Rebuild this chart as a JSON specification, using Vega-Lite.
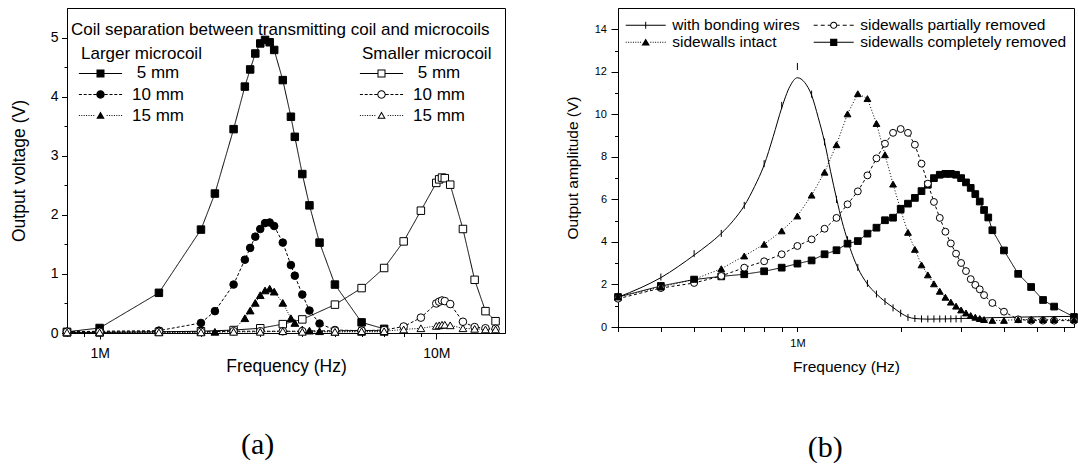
{
  "$schema": "https://vega.github.io/schema/vega-lite/v6.json",
  "padding": {"left": 9, "top": 7, "right": 0, "bottom": 0},
  "background": "white",
  "spacing": 58,
  "config": {
    "font": "Liberation Sans",
    "view": {"stroke": "black", "strokeWidth": 1},
    "axis": {"domainColor": "black", "tickColor": "black", "labelColor": "black", "titleColor": "black", "grid": false, "titleFontWeight": "normal", "domainWidth": 1, "tickWidth": 1, "labelOverlap": false, "labelFlush": false},
    "legend": {"labelColor": "black", "titleColor": "black", "titleFontWeight": "normal", "padding": 0, "labelLimit": 400, "titleLimit": 600},
    "title": {"color": "black", "fontWeight": "normal"}
  },
  "resolve": {"scale": {"shape": "independent", "fill": "independent", "strokeDash": "independent", "size": "independent", "color": "independent"}},
  "hconcat": [
    {
      "title": {"text": "(a)", "orient": "bottom", "anchor": "middle", "frame": "bounds", "font": "Liberation Serif", "fontSize": 30, "baseline": "alphabetic", "offset": 79},
      "vconcat": [
        {
          "width": 438,
          "height": 325,
          "data": {"values": [
            {"coil":"Larger","sep":"5 mm","f":8e5,"v":0.02},{"coil":"Larger","sep":"5 mm","f":1e6,"v":0.085},{"coil":"Larger","sep":"5 mm","f":1.5e6,"v":0.68},{"coil":"Larger","sep":"5 mm","f":2e6,"v":1.75},{"coil":"Larger","sep":"5 mm","f":2.2e6,"v":2.36},{"coil":"Larger","sep":"5 mm","f":2.5e6,"v":3.45},{"coil":"Larger","sep":"5 mm","f":2.7e6,"v":4.17},{"coil":"Larger","sep":"5 mm","f":2.8e6,"v":4.46},{"coil":"Larger","sep":"5 mm","f":2.9e6,"v":4.73},{"coil":"Larger","sep":"5 mm","f":3e6,"v":4.9},{"coil":"Larger","sep":"5 mm","f":3.1e6,"v":4.96},{"coil":"Larger","sep":"5 mm","f":3.2e6,"v":4.92},{"coil":"Larger","sep":"5 mm","f":3.3e6,"v":4.79},{"coil":"Larger","sep":"5 mm","f":3.5e6,"v":4.28},{"coil":"Larger","sep":"5 mm","f":3.7e6,"v":3.66},{"coil":"Larger","sep":"5 mm","f":3.8e6,"v":3.32},{"coil":"Larger","sep":"5 mm","f":4e6,"v":2.69},{"coil":"Larger","sep":"5 mm","f":4.2e6,"v":2.16},{"coil":"Larger","sep":"5 mm","f":4.5e6,"v":1.53},{"coil":"Larger","sep":"5 mm","f":5e6,"v":0.82},{"coil":"Larger","sep":"5 mm","f":6e6,"v":0.18},{"coil":"Larger","sep":"5 mm","f":7e6,"v":0.07},
            {"coil":"Larger","sep":"10 mm","f":8e5,"v":0.02},{"coil":"Larger","sep":"10 mm","f":1e6,"v":0.03},{"coil":"Larger","sep":"10 mm","f":1.5e6,"v":0.04},{"coil":"Larger","sep":"10 mm","f":2e6,"v":0.17},{"coil":"Larger","sep":"10 mm","f":2.2e6,"v":0.37},{"coil":"Larger","sep":"10 mm","f":2.5e6,"v":0.82},{"coil":"Larger","sep":"10 mm","f":2.7e6,"v":1.24},{"coil":"Larger","sep":"10 mm","f":2.8e6,"v":1.44},{"coil":"Larger","sep":"10 mm","f":2.9e6,"v":1.63},{"coil":"Larger","sep":"10 mm","f":3e6,"v":1.76},{"coil":"Larger","sep":"10 mm","f":3.1e6,"v":1.86},{"coil":"Larger","sep":"10 mm","f":3.2e6,"v":1.87},{"coil":"Larger","sep":"10 mm","f":3.3e6,"v":1.81},{"coil":"Larger","sep":"10 mm","f":3.5e6,"v":1.53},{"coil":"Larger","sep":"10 mm","f":3.7e6,"v":1.15},{"coil":"Larger","sep":"10 mm","f":3.8e6,"v":0.97},{"coil":"Larger","sep":"10 mm","f":4e6,"v":0.65},{"coil":"Larger","sep":"10 mm","f":4.2e6,"v":0.38},{"coil":"Larger","sep":"10 mm","f":4.5e6,"v":0.16},{"coil":"Larger","sep":"10 mm","f":5e6,"v":0.05},{"coil":"Larger","sep":"10 mm","f":6e6,"v":0.04},{"coil":"Larger","sep":"10 mm","f":7e6,"v":0.04},
            {"coil":"Larger","sep":"15 mm","f":8e5,"v":0.01},{"coil":"Larger","sep":"15 mm","f":1e6,"v":0.01},{"coil":"Larger","sep":"15 mm","f":1.5e6,"v":0.02},{"coil":"Larger","sep":"15 mm","f":2e6,"v":0.02},{"coil":"Larger","sep":"15 mm","f":2.2e6,"v":0.02},{"coil":"Larger","sep":"15 mm","f":2.5e6,"v":0.05},{"coil":"Larger","sep":"15 mm","f":2.7e6,"v":0.25},{"coil":"Larger","sep":"15 mm","f":2.8e6,"v":0.38},{"coil":"Larger","sep":"15 mm","f":2.9e6,"v":0.51},{"coil":"Larger","sep":"15 mm","f":3e6,"v":0.64},{"coil":"Larger","sep":"15 mm","f":3.1e6,"v":0.72},{"coil":"Larger","sep":"15 mm","f":3.2e6,"v":0.75},{"coil":"Larger","sep":"15 mm","f":3.3e6,"v":0.7},{"coil":"Larger","sep":"15 mm","f":3.5e6,"v":0.51},{"coil":"Larger","sep":"15 mm","f":3.7e6,"v":0.25},{"coil":"Larger","sep":"15 mm","f":3.8e6,"v":0.17},{"coil":"Larger","sep":"15 mm","f":4e6,"v":0.06},{"coil":"Larger","sep":"15 mm","f":4.2e6,"v":0.04},{"coil":"Larger","sep":"15 mm","f":4.5e6,"v":0.03},{"coil":"Larger","sep":"15 mm","f":5e6,"v":0.02},{"coil":"Larger","sep":"15 mm","f":6e6,"v":0.02},{"coil":"Larger","sep":"15 mm","f":7e6,"v":0.02},
            {"coil":"Smaller","sep":"5 mm","f":8e5,"v":0.01},{"coil":"Smaller","sep":"5 mm","f":1e6,"v":0.01},{"coil":"Smaller","sep":"5 mm","f":1.5e6,"v":0.02},{"coil":"Smaller","sep":"5 mm","f":2e6,"v":0.03},{"coil":"Smaller","sep":"5 mm","f":2.5e6,"v":0.05},{"coil":"Smaller","sep":"5 mm","f":3e6,"v":0.08},{"coil":"Smaller","sep":"5 mm","f":3.5e6,"v":0.15},{"coil":"Smaller","sep":"5 mm","f":4e6,"v":0.23},{"coil":"Smaller","sep":"5 mm","f":5e6,"v":0.48},{"coil":"Smaller","sep":"5 mm","f":6e6,"v":0.76},{"coil":"Smaller","sep":"5 mm","f":7e6,"v":1.1},{"coil":"Smaller","sep":"5 mm","f":8e6,"v":1.55},{"coil":"Smaller","sep":"5 mm","f":9e6,"v":2.07},{"coil":"Smaller","sep":"5 mm","f":1e7,"v":2.54},{"coil":"Smaller","sep":"5 mm","f":1.02e7,"v":2.6},{"coil":"Smaller","sep":"5 mm","f":1.04e7,"v":2.63},{"coil":"Smaller","sep":"5 mm","f":1.06e7,"v":2.62},{"coil":"Smaller","sep":"5 mm","f":1.1e7,"v":2.51},{"coil":"Smaller","sep":"5 mm","f":1.2e7,"v":1.76},{"coil":"Smaller","sep":"5 mm","f":1.3e7,"v":0.9},{"coil":"Smaller","sep":"5 mm","f":1.4e7,"v":0.37},{"coil":"Smaller","sep":"5 mm","f":1.5e7,"v":0.2},
            {"coil":"Smaller","sep":"10 mm","f":8e5,"v":0.02},{"coil":"Smaller","sep":"10 mm","f":1e6,"v":0.02},{"coil":"Smaller","sep":"10 mm","f":1.5e6,"v":0.02},{"coil":"Smaller","sep":"10 mm","f":2e6,"v":0.02},{"coil":"Smaller","sep":"10 mm","f":2.5e6,"v":0.03},{"coil":"Smaller","sep":"10 mm","f":3e6,"v":0.03},{"coil":"Smaller","sep":"10 mm","f":3.5e6,"v":0.03},{"coil":"Smaller","sep":"10 mm","f":4e6,"v":0.03},{"coil":"Smaller","sep":"10 mm","f":5e6,"v":0.04},{"coil":"Smaller","sep":"10 mm","f":6e6,"v":0.04},{"coil":"Smaller","sep":"10 mm","f":7e6,"v":0.05},{"coil":"Smaller","sep":"10 mm","f":8e6,"v":0.11},{"coil":"Smaller","sep":"10 mm","f":9e6,"v":0.26},{"coil":"Smaller","sep":"10 mm","f":1e7,"v":0.5},{"coil":"Smaller","sep":"10 mm","f":1.02e7,"v":0.53},{"coil":"Smaller","sep":"10 mm","f":1.04e7,"v":0.55},{"coil":"Smaller","sep":"10 mm","f":1.06e7,"v":0.54},{"coil":"Smaller","sep":"10 mm","f":1.1e7,"v":0.49},{"coil":"Smaller","sep":"10 mm","f":1.2e7,"v":0.19},{"coil":"Smaller","sep":"10 mm","f":1.3e7,"v":0.1},{"coil":"Smaller","sep":"10 mm","f":1.4e7,"v":0.08},{"coil":"Smaller","sep":"10 mm","f":1.5e7,"v":0.07},
            {"coil":"Smaller","sep":"15 mm","f":8e5,"v":0.01},{"coil":"Smaller","sep":"15 mm","f":1e6,"v":0.01},{"coil":"Smaller","sep":"15 mm","f":1.5e6,"v":0.01},{"coil":"Smaller","sep":"15 mm","f":2e6,"v":0.01},{"coil":"Smaller","sep":"15 mm","f":2.5e6,"v":0.02},{"coil":"Smaller","sep":"15 mm","f":3e6,"v":0.02},{"coil":"Smaller","sep":"15 mm","f":3.5e6,"v":0.03},{"coil":"Smaller","sep":"15 mm","f":4e6,"v":0.02},{"coil":"Smaller","sep":"15 mm","f":5e6,"v":0.02},{"coil":"Smaller","sep":"15 mm","f":6e6,"v":0.03},{"coil":"Smaller","sep":"15 mm","f":7e6,"v":0.03},{"coil":"Smaller","sep":"15 mm","f":8e6,"v":0.06},{"coil":"Smaller","sep":"15 mm","f":9e6,"v":0.08},{"coil":"Smaller","sep":"15 mm","f":1e7,"v":0.12},{"coil":"Smaller","sep":"15 mm","f":1.02e7,"v":0.13},{"coil":"Smaller","sep":"15 mm","f":1.04e7,"v":0.14},{"coil":"Smaller","sep":"15 mm","f":1.06e7,"v":0.14},{"coil":"Smaller","sep":"15 mm","f":1.1e7,"v":0.13},{"coil":"Smaller","sep":"15 mm","f":1.2e7,"v":0.08},{"coil":"Smaller","sep":"15 mm","f":1.3e7,"v":0.07},{"coil":"Smaller","sep":"15 mm","f":1.4e7,"v":0.06},{"coil":"Smaller","sep":"15 mm","f":1.5e7,"v":0.06}
          ]},
          "encoding": {
            "x": {"field": "f", "type": "quantitative", "scale": {"type": "log", "domain": [800000, 16000000], "nice": false},
              "axis": {"title": "Frequency (Hz)", "values": [800000, 900000, 1000000, 2000000, 3000000, 4000000, 5000000, 6000000, 7000000, 8000000, 9000000, 10000000],
                "labelExpr": "datum.value == 1000000 ? '1M' : (datum.value == 10000000 ? '10M' : '')",
                "tickSize": {"condition": {"test": "datum.value == 1000000 || datum.value == 10000000", "value": 6}, "value": 3.5},
                "labelFontSize": 14, "titleFontSize": 17.5, "labelPadding": 7.5, "titlePadding": -3.5}},
            "y": {"field": "v", "type": "quantitative", "scale": {"domain": [0, 5.5], "nice": false, "zero": false},
              "axis": {"title": "Output voltage (V)", "values": [0, 0.5, 1, 1.5, 2, 2.5, 3, 3.5, 4, 4.5, 5],
                "labelExpr": "datum.value % 1 == 0 ? format(datum.value, 'd') : ''",
                "tickSize": {"condition": {"test": "datum.value % 1 == 0", "value": 5.5}, "value": 3},
                "labelFontSize": 14, "titleFontSize": 17.5, "labelPadding": 3.5, "titlePadding": 22}}
          },
          "resolve": {"scale": {"shape": "independent"}},
          "layer": [
            {
              "mark": {"type": "line", "stroke": "black", "strokeWidth": 1},
              "encoding": {
                "strokeDash": {"field": "sep", "type": "nominal", "scale": {"domain": ["5 mm", "10 mm", "15 mm"], "range": [[1, 0], [3, 2], [1, 1.5]]}, "legend": null},
                "detail": {"field": "coil", "type": "nominal"}
              }
            },
            {
              "mark": {"type": "point", "filled": true, "stroke": "black", "strokeWidth": 1, "opacity": 1},
              "encoding": {
                "shape": {"field": "sep", "type": "nominal", "scale": {"domain": ["5 mm", "10 mm", "15 mm"], "range": ["square", "circle", "triangle-up"]}, "legend": null},
                "size": {"field": "sep", "type": "ordinal", "scale": {"domain": ["5 mm", "10 mm", "15 mm"], "range": [56, 60, 75]}, "legend": null},
                "fill": {"field": "coil", "type": "nominal", "scale": {"domain": ["Larger", "Smaller"], "range": ["black", "white"]}, "legend": null}
              }
            },
            {
              "transform": [{"filter": "false"}],
              "mark": {"type": "point", "opacity": 1},
              "encoding": {
                "color": {"field": "coil", "type": "nominal", "scale": {"domain": ["Larger"], "range": ["white"]},
                  "legend": {"title": "Coil separation between transmitting coil and microcoils", "orient": "none", "legendX": 4, "legendY": 14, "titleFontSize": 17, "titleLimit": 600, "titlePadding": 0, "labelExpr": "''", "labelFontSize": 1, "symbolOpacity": 0, "symbolSize": 1, "symbolStrokeWidth": 0}}
              }
            },
            {
              "transform": [{"filter": "false"}],
              "mark": {"type": "point", "filled": true, "fill": "black", "strokeWidth": 0, "opacity": 1},
              "encoding": {
                "shape": {"field": "sep", "type": "nominal",
                  "scale": {"domain": ["5 mm", "10 mm", "15 mm"], "range": [
                    "M-5.4,-0.125H5.4V0.125H-5.4ZM-1,-1H1V1H-1Z",
                    "M-5.4,-0.125H-4.65V0.125H-5.4ZM-4.2,-0.125H-3.45V0.125H-4.2ZM-3,-0.125H-2.25V0.125H-3ZM-1.8,-0.125H-1.05V0.125H-1.8ZM1.05,-0.125H1.8V0.125H1.05ZM2.25,-0.125H3V0.125H2.25ZM3.45,-0.125H4.2V0.125H3.45ZM4.65,-0.125H5.4V0.125H4.65ZM1.05,0A1.05,1.05,0,1,1,-1.05,0A1.05,1.05,0,1,1,1.05,0Z",
                    "M-5.4,-0.125H-5.15V0.125H-5.4ZM-4.8,-0.125H-4.55V0.125H-4.8ZM-4.2,-0.125H-3.95V0.125H-4.2ZM-3.6,-0.125H-3.35V0.125H-3.6ZM-3,-0.125H-2.75V0.125H-3ZM-2.4,-0.125H-2.15V0.125H-2.4ZM-1.8,-0.125H-1.55V0.125H-1.8ZM1.55,-0.125H1.8V0.125H1.55ZM2.15,-0.125H2.4V0.125H2.15ZM2.75,-0.125H3V0.125H2.75ZM3.35,-0.125H3.6V0.125H3.35ZM3.95,-0.125H4.2V0.125H3.95ZM4.55,-0.125H4.8V0.125H4.55ZM5.15,-0.125H5.4V0.125H5.15ZM0,-1L1.05,0.8H-1.05Z"]},
                  "legend": {"title": "Larger microcoil", "orient": "none", "legendX": 14, "legendY": 38.4, "symbolSize": 64, "symbolOffset": 11, "labelOffset": 49, "labelAlign": "center", "labelFontSize": 17, "titleFontSize": 17, "titlePadding": 1.5, "rowPadding": 3.1, "symbolStrokeWidth": 0, "symbolFillColor": "black", "symbolStrokeColor": "transparent"}}
              }
            },
            {
              "transform": [{"filter": "false"}],
              "mark": {"type": "point", "filled": true, "fill": "black", "strokeWidth": 0, "opacity": 1},
              "encoding": {
                "shape": {"field": "sep", "type": "nominal",
                  "scale": {"domain": ["5 mm", "10 mm", "15 mm"], "range": [
                    "M-5.4,-0.125H-1V0.125H-5.4ZM1,-0.125H5.4V0.125H1ZM-1,-1H1V1H-1ZM-0.75,-0.75V0.75H0.75V-0.75Z",
                    "M-5.4,-0.125H-4.65V0.125H-5.4ZM-4.2,-0.125H-3.45V0.125H-4.2ZM-3,-0.125H-2.25V0.125H-3ZM-1.8,-0.125H-1.05V0.125H-1.8ZM1.05,-0.125H1.8V0.125H1.05ZM2.25,-0.125H3V0.125H2.25ZM3.45,-0.125H4.2V0.125H3.45ZM4.65,-0.125H5.4V0.125H4.65ZM1.05,0A1.05,1.05,0,1,1,-1.05,0A1.05,1.05,0,1,1,1.05,0ZM0.8,0A0.8,0.8,0,1,0,-0.8,0A0.8,0.8,0,1,0,0.8,0Z",
                    "M-5.4,-0.125H-5.15V0.125H-5.4ZM-4.8,-0.125H-4.55V0.125H-4.8ZM-4.2,-0.125H-3.95V0.125H-4.2ZM-3.6,-0.125H-3.35V0.125H-3.6ZM-3,-0.125H-2.75V0.125H-3ZM-2.4,-0.125H-2.15V0.125H-2.4ZM-1.8,-0.125H-1.55V0.125H-1.8ZM1.55,-0.125H1.8V0.125H1.55ZM2.15,-0.125H2.4V0.125H2.15ZM2.75,-0.125H3V0.125H2.75ZM3.35,-0.125H3.6V0.125H3.35ZM3.95,-0.125H4.2V0.125H3.95ZM4.55,-0.125H4.8V0.125H4.55ZM5.15,-0.125H5.4V0.125H5.15ZM0,-1L1.05,0.8H-1.05ZM0,-0.5L-0.61,0.55H0.61Z"]},
                  "legend": {"title": "Smaller microcoil", "orient": "none", "legendX": 295, "legendY": 38.4, "symbolSize": 64, "symbolOffset": 11, "labelOffset": 49, "labelAlign": "center", "labelFontSize": 17, "titleFontSize": 17, "titlePadding": 1.5, "rowPadding": 3.1, "symbolStrokeWidth": 0, "symbolFillColor": "black", "symbolStrokeColor": "transparent"}}
              }
            }
          ]
        }
      ]
    },
    {
      "title": {"text": "(b)", "orient": "bottom", "anchor": "middle", "frame": "bounds", "font": "Liberation Serif", "fontSize": 30, "baseline": "alphabetic", "offset": 81, "dx": 3},
      "vconcat": [
        {
          "width": 456,
          "height": 319,
          "data": {"values": [
            {"s":"complete","f":3e5,"v":1.41},{"s":"complete","f":4e5,"v":1.93},{"s":"complete","f":5e5,"v":2.23},{"s":"complete","f":6e5,"v":2.38},{"s":"complete","f":7e5,"v":2.48},{"s":"complete","f":8e5,"v":2.62},{"s":"complete","f":9e5,"v":2.79},{"s":"complete","f":1e6,"v":2.98},{"s":"complete","f":1.1e6,"v":3.13},{"s":"complete","f":1.2e6,"v":3.42},{"s":"complete","f":1.3e6,"v":3.61},{"s":"complete","f":1.4e6,"v":3.92},{"s":"complete","f":1.5e6,"v":4.04},{"s":"complete","f":1.6e6,"v":4.39},{"s":"complete","f":1.7e6,"v":4.67},{"s":"complete","f":1.8e6,"v":5.02},{"s":"complete","f":1.9e6,"v":5.14},{"s":"complete","f":2e6,"v":5.56},{"s":"complete","f":2.1e6,"v":5.8},{"s":"complete","f":2.2e6,"v":6.07},{"s":"complete","f":2.3e6,"v":6.39},{"s":"complete","f":2.4e6,"v":6.69},{"s":"complete","f":2.5e6,"v":7.0},{"s":"complete","f":2.6e6,"v":7.16},{"s":"complete","f":2.7e6,"v":7.2},{"s":"complete","f":2.8e6,"v":7.2},{"s":"complete","f":2.9e6,"v":7.16},{"s":"complete","f":3e6,"v":7.0},{"s":"complete","f":3.1e6,"v":6.8},{"s":"complete","f":3.2e6,"v":6.54},{"s":"complete","f":3.3e6,"v":6.25},{"s":"complete","f":3.4e6,"v":5.9},{"s":"complete","f":3.5e6,"v":5.5},{"s":"complete","f":3.6e6,"v":5.15},{"s":"complete","f":3.7e6,"v":4.55},{"s":"complete","f":4e6,"v":3.6},{"s":"complete","f":4.4e6,"v":2.5},{"s":"complete","f":4.8e6,"v":1.88},{"s":"complete","f":5.2e6,"v":1.27},{"s":"complete","f":5.6e6,"v":0.96},{"s":"complete","f":6.4e6,"v":0.47},
            {"s":"partial","f":3e5,"v":1.33},{"s":"partial","f":4e5,"v":1.83},{"s":"partial","f":5e5,"v":2.07},{"s":"partial","f":6e5,"v":2.4},{"s":"partial","f":7e5,"v":2.79},{"s":"partial","f":8e5,"v":3.09},{"s":"partial","f":9e5,"v":3.42},{"s":"partial","f":1e6,"v":3.81},{"s":"partial","f":1.1e6,"v":4.12},{"s":"partial","f":1.2e6,"v":4.62},{"s":"partial","f":1.3e6,"v":5.13},{"s":"partial","f":1.4e6,"v":5.77},{"s":"partial","f":1.5e6,"v":6.38},{"s":"partial","f":1.6e6,"v":7.13},{"s":"partial","f":1.7e6,"v":7.93},{"s":"partial","f":1.8e6,"v":8.62},{"s":"partial","f":1.9e6,"v":9.13},{"s":"partial","f":2e6,"v":9.31},{"s":"partial","f":2.1e6,"v":9.13},{"s":"partial","f":2.2e6,"v":8.57},{"s":"partial","f":2.3e6,"v":7.68},{"s":"partial","f":2.4e6,"v":6.74},{"s":"partial","f":2.5e6,"v":5.88},{"s":"partial","f":2.6e6,"v":5.13},{"s":"partial","f":2.7e6,"v":4.48},{"s":"partial","f":2.8e6,"v":3.93},{"s":"partial","f":2.9e6,"v":3.45},{"s":"partial","f":3e6,"v":3.01},{"s":"partial","f":3.1e6,"v":2.63},{"s":"partial","f":3.2e6,"v":2.25},{"s":"partial","f":3.3e6,"v":1.98},{"s":"partial","f":3.4e6,"v":1.77},{"s":"partial","f":3.5e6,"v":1.5},{"s":"partial","f":3.7e6,"v":1.13},{"s":"partial","f":4e6,"v":0.72},{"s":"partial","f":4.4e6,"v":0.36},{"s":"partial","f":4.8e6,"v":0.3},{"s":"partial","f":5.2e6,"v":0.3},{"s":"partial","f":5.6e6,"v":0.3},{"s":"partial","f":6.4e6,"v":0.3},
            {"s":"intact","f":3e5,"v":1.41},{"s":"intact","f":4e5,"v":1.88},{"s":"intact","f":5e5,"v":2.24},{"s":"intact","f":6e5,"v":2.74},{"s":"intact","f":7e5,"v":3.34},{"s":"intact","f":8e5,"v":3.89},{"s":"intact","f":9e5,"v":4.52},{"s":"intact","f":1e6,"v":5.22},{"s":"intact","f":1.1e6,"v":6.2},{"s":"intact","f":1.2e6,"v":7.28},{"s":"intact","f":1.3e6,"v":8.57},{"s":"intact","f":1.4e6,"v":10.02},{"s":"intact","f":1.5e6,"v":10.97},{"s":"intact","f":1.6e6,"v":10.74},{"s":"intact","f":1.7e6,"v":9.57},{"s":"intact","f":1.8e6,"v":8.1},{"s":"intact","f":1.9e6,"v":6.72},{"s":"intact","f":2e6,"v":5.5},{"s":"intact","f":2.1e6,"v":4.45},{"s":"intact","f":2.2e6,"v":3.65},{"s":"intact","f":2.3e6,"v":2.92},{"s":"intact","f":2.4e6,"v":2.45},{"s":"intact","f":2.5e6,"v":2.03},{"s":"intact","f":2.6e6,"v":1.68},{"s":"intact","f":2.7e6,"v":1.4},{"s":"intact","f":2.8e6,"v":1.17},{"s":"intact","f":2.9e6,"v":0.98},{"s":"intact","f":3e6,"v":0.8},{"s":"intact","f":3.1e6,"v":0.66},{"s":"intact","f":3.2e6,"v":0.54},{"s":"intact","f":3.3e6,"v":0.46},{"s":"intact","f":3.4e6,"v":0.4},{"s":"intact","f":3.5e6,"v":0.35},{"s":"intact","f":3.7e6,"v":0.31},{"s":"intact","f":4e6,"v":0.31},{"s":"intact","f":4.4e6,"v":0.35},{"s":"intact","f":4.8e6,"v":0.35},{"s":"intact","f":5.2e6,"v":0.35},{"s":"intact","f":5.6e6,"v":0.35},{"s":"intact","f":6.4e6,"v":0.35},
            {"s":"bond","f":3e5,"v":1.45},{"s":"bond","f":4e5,"v":2.35},{"s":"bond","f":5e5,"v":3.45},{"s":"bond","f":6e5,"v":4.4},{"s":"bond","f":7e5,"v":5.72},{"s":"bond","f":8e5,"v":7.68},{"s":"bond","f":9e5,"v":10.42},{"s":"bond","f":1e6,"v":12.25},{"s":"bond","f":1.1e6,"v":10.95},{"s":"bond","f":1.2e6,"v":8.7},{"s":"bond","f":1.3e6,"v":6.0},{"s":"bond","f":1.4e6,"v":4.1},{"s":"bond","f":1.5e6,"v":2.8},{"s":"bond","f":1.6e6,"v":2.05},{"s":"bond","f":1.7e6,"v":1.55},{"s":"bond","f":1.8e6,"v":1.2},{"s":"bond","f":1.9e6,"v":0.9},{"s":"bond","f":2e6,"v":0.65},{"s":"bond","f":2.1e6,"v":0.45},{"s":"bond","f":2.2e6,"v":0.4},{"s":"bond","f":2.3e6,"v":0.38},{"s":"bond","f":2.4e6,"v":0.38},{"s":"bond","f":2.5e6,"v":0.38},{"s":"bond","f":2.6e6,"v":0.38},{"s":"bond","f":2.7e6,"v":0.38},{"s":"bond","f":2.8e6,"v":0.38},{"s":"bond","f":2.9e6,"v":0.38},{"s":"bond","f":3e6,"v":0.38},
            {"s":"fit","f":3e5,"v":1.4},{"s":"fit","f":3.5e5,"v":1.85},{"s":"fit","f":4e5,"v":2.32},{"s":"fit","f":4.5e5,"v":2.85},{"s":"fit","f":5e5,"v":3.38},{"s":"fit","f":5.5e5,"v":3.88},{"s":"fit","f":6e5,"v":4.4},{"s":"fit","f":6.5e5,"v":5.0},{"s":"fit","f":7e5,"v":5.7},{"s":"fit","f":7.5e5,"v":6.6},{"s":"fit","f":8e5,"v":7.62},{"s":"fit","f":8.5e5,"v":8.95},{"s":"fit","f":9e5,"v":10.3},{"s":"fit","f":9.5e5,"v":11.3},{"s":"fit","f":1e6,"v":11.72},{"s":"fit","f":1.05e6,"v":11.5},{"s":"fit","f":1.1e6,"v":10.9},{"s":"fit","f":1.15e6,"v":9.85},{"s":"fit","f":1.2e6,"v":8.7},{"s":"fit","f":1.25e6,"v":7.3},{"s":"fit","f":1.3e6,"v":6.05},{"s":"fit","f":1.35e6,"v":4.95},{"s":"fit","f":1.4e6,"v":4.08},{"s":"fit","f":1.45e6,"v":3.35},{"s":"fit","f":1.5e6,"v":2.78},{"s":"fit","f":1.6e6,"v":2.02},{"s":"fit","f":1.7e6,"v":1.55},{"s":"fit","f":1.8e6,"v":1.2},{"s":"fit","f":1.9e6,"v":0.92},{"s":"fit","f":2e6,"v":0.66},{"s":"fit","f":2.1e6,"v":0.47},{"s":"fit","f":2.2e6,"v":0.4},{"s":"fit","f":2.4e6,"v":0.37},{"s":"fit","f":2.7e6,"v":0.38},{"s":"fit","f":3e6,"v":0.4},{"s":"fit","f":3.5e6,"v":0.43},{"s":"fit","f":4e6,"v":0.45},{"s":"fit","f":5e6,"v":0.48},{"s":"fit","f":6.4e6,"v":0.5}
          ]},
          "encoding": {
            "x": {"field": "f", "type": "quantitative", "scale": {"type": "log", "domain": [300000, 6400000], "nice": false},
              "axis": {"title": "Frequency (Hz)", "values": [300000, 400000, 500000, 600000, 700000, 800000, 900000, 1000000, 2000000, 3000000, 4000000, 5000000, 6000000],
                "labelExpr": "datum.value == 1000000 ? '1M' : ''",
                "tickSize": 4.5, "labelFontSize": 11, "titleFontSize": 15.5, "labelPadding": 6.2, "titlePadding": 11}},
            "y": {"field": "v", "type": "quantitative", "scale": {"domain": [0, 15], "nice": false, "zero": false},
              "axis": {"title": "Output amplitude (V)", "values": [0, 1, 2, 3, 4, 5, 6, 7, 8, 9, 10, 11, 12, 13, 14],
                "labelExpr": "datum.value % 2 == 0 ? format(datum.value, 'd') : ''",
                "tickSize": {"condition": {"test": "datum.value % 2 == 0", "value": 7}, "value": 3.5},
                "labelFontSize": 11, "titleFontSize": 15.5, "labelPadding": 4.5, "titlePadding": 14}}
          },
          "resolve": {"scale": {"shape": "independent", "fill": "independent", "size": "independent"}},
          "layer": [
            {
              "transform": [{"filter": "datum.s == 'fit'"}],
              "mark": {"type": "line", "interpolate": "monotone", "stroke": "black", "strokeWidth": 1},
              "encoding": {}
            },
            {
              "transform": [{"filter": "datum.s == 'intact' || datum.s == 'partial' || datum.s == 'complete'"}],
              "mark": {"type": "line", "stroke": "black", "strokeWidth": 1},
              "encoding": {
                "strokeDash": {"field": "s", "type": "nominal", "scale": {"domain": ["intact", "partial", "complete"], "range": [[1, 2], [3, 2.5], [1, 0]]}, "legend": null}
              }
            },
            {
              "transform": [{"filter": "datum.s != 'fit'"}],
              "mark": {"type": "point", "filled": true, "stroke": "black", "strokeWidth": 1, "opacity": 1},
              "encoding": {
                "shape": {"field": "s", "type": "nominal", "scale": {"domain": ["bond", "partial", "intact", "complete"], "range": ["M0,-1V1", "circle", "triangle-up", "square"]}, "legend": null},
                "size": {"field": "s", "type": "ordinal", "scale": {"domain": ["bond", "partial", "intact", "complete"], "range": [49, 45, 62, 42]}, "legend": null},
                "fill": {"field": "s", "type": "nominal", "scale": {"domain": ["bond", "partial", "intact", "complete"], "range": ["black", "white", "black", "black"]}, "legend": null}
              }
            },
            {
              "transform": [{"filter": "false"}],
              "mark": {"type": "point", "filled": true, "fill": "black", "strokeWidth": 0, "opacity": 1},
              "encoding": {
                "shape": {"field": "s", "type": "nominal",
                  "scale": {"domain": ["bond", "intact", "partial", "complete"], "range": [
                    "M-5,-0.125H5V0.125H-5ZM-0.125,-0.9H0.125V0.9H-0.125Z",
                    "M-5,-0.125H-4.75V0.125H-5ZM-4.4,-0.125H-4.15V0.125H-4.4ZM-3.8,-0.125H-3.55V0.125H-3.8ZM-3.2,-0.125H-2.95V0.125H-3.2ZM-2.6,-0.125H-2.35V0.125H-2.6ZM-2,-0.125H-1.75V0.125H-2ZM-1.4,-0.125H-1.15V0.125H-1.4ZM1.15,-0.125H1.4V0.125H1.15ZM1.75,-0.125H2V0.125H1.75ZM2.35,-0.125H2.6V0.125H2.35ZM2.95,-0.125H3.2V0.125H2.95ZM3.55,-0.125H3.8V0.125H3.55ZM4.15,-0.125H4.4V0.125H4.15ZM4.75,-0.125H5V0.125H4.75ZM0,-0.95L1.05,0.8H-1.05Z",
                    "M-5,-0.125H-4V0.125H-5ZM-3.25,-0.125H-2.25V0.125H-3.25ZM-1.5,-0.125H-0.9V0.125H-1.5ZM0.9,-0.125H1.5V0.125H0.9ZM2.25,-0.125H3.25V0.125H2.25ZM4,-0.125H5V0.125H4ZM0.9,0A0.9,0.9,0,1,1,-0.9,0A0.9,0.9,0,1,1,0.9,0ZM0.65,0A0.65,0.65,0,1,0,-0.65,0A0.65,0.65,0,1,0,0.65,0Z",
                    "M-5,-0.125H5V0.125H-5ZM-0.9,-0.9H0.9V0.9H-0.9Z"]},
                  "legend": {"title": null, "orient": "none", "legendX": 7.7, "legendY": 9.1, "columns": 2, "columnPadding": 13, "symbolSize": 64, "symbolOffset": 12.25, "labelOffset": 18.8, "labelFontSize": 15.5, "rowPadding": 0.5, "symbolStrokeWidth": 0, "symbolStrokeColor": "transparent", "symbolFillColor": "black",
                    "labelExpr": "datum.value == 'bond' ? 'with bonding wires' : (datum.value == 'partial' ? 'sidewalls partially removed' : (datum.value == 'intact' ? 'sidewalls intact' : 'sidewalls completely removed'))"}}
              }
            }
          ]
        }
      ]
    }
  ]
}
